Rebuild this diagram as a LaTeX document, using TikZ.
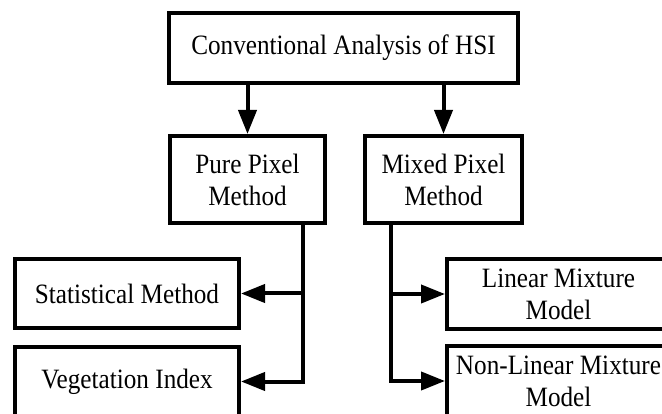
\documentclass[tikz,border=0pt]{standalone}
\usepackage{fontspec}
\setmainfont[FakeStretch=0.9]{Liberation Serif}
\usetikzlibrary{arrows.meta,calc}
\begin{document}
\begin{tikzpicture}[x=1pt,y=-1pt,
  box/.style={draw, line width=4pt, align=center, inner sep=0pt,
    font=\fontsize{28}{32}\selectfont},
  arr/.style={line width=4pt, -{Triangle[length=24pt,width=18pt]}},
  branch/.style={line width=4pt}]
\useasboundingbox (0,0) rectangle (662,414);
\fill[white] (0,0) rectangle (662,414);
\clip (0,0) rectangle (662,414);
\node[box, minimum width=349pt, minimum height=70pt] (top) at (343.5,48) {Conventional Analysis of HSI};
\node[box, minimum width=155pt, minimum height=87pt] (pure) at (247.5,179.5) {Pure Pixel\\Method};
\node[box, minimum width=157pt, minimum height=87pt] (mixed) at (443.5,179.5) {Mixed Pixel\\Method};
\node[box, minimum width=224pt, minimum height=69pt] (stat) at (127,293.5) {Statistical Method};
\node[box, minimum width=224pt, minimum height=69pt] (veg) at (127,381.5) {Vegetation Index};
\node[box, minimum width=223pt, minimum height=70pt] (lin) at (558.5,294) {Linear Mixture\\Model};
\node[box, minimum width=223pt, minimum height=70pt] (nonlin) at (558.5,381) {Non-Linear Mixture\\Model};
\draw[arr] (pure.north |- top.south) -- (pure.north);
\draw[arr] (mixed.north |- top.south) -- (mixed.north);
\coordinate (pj) at (303,381.5);
\coordinate (mj) at (391,381);
\draw[branch] (pure.south -| pj) -- (pj);
\draw[arr] (stat.east -| pj) -- (stat.east);
\draw[arr] ([xshift=2pt]pj) -- (veg.east);
\draw[branch] (mixed.south -| mj) -- (mj);
\draw[arr] (lin.west -| mj) -- (lin.west);
\draw[arr] ([xshift=-2pt]mj) -- (nonlin.west);
\end{tikzpicture}
\end{document}
